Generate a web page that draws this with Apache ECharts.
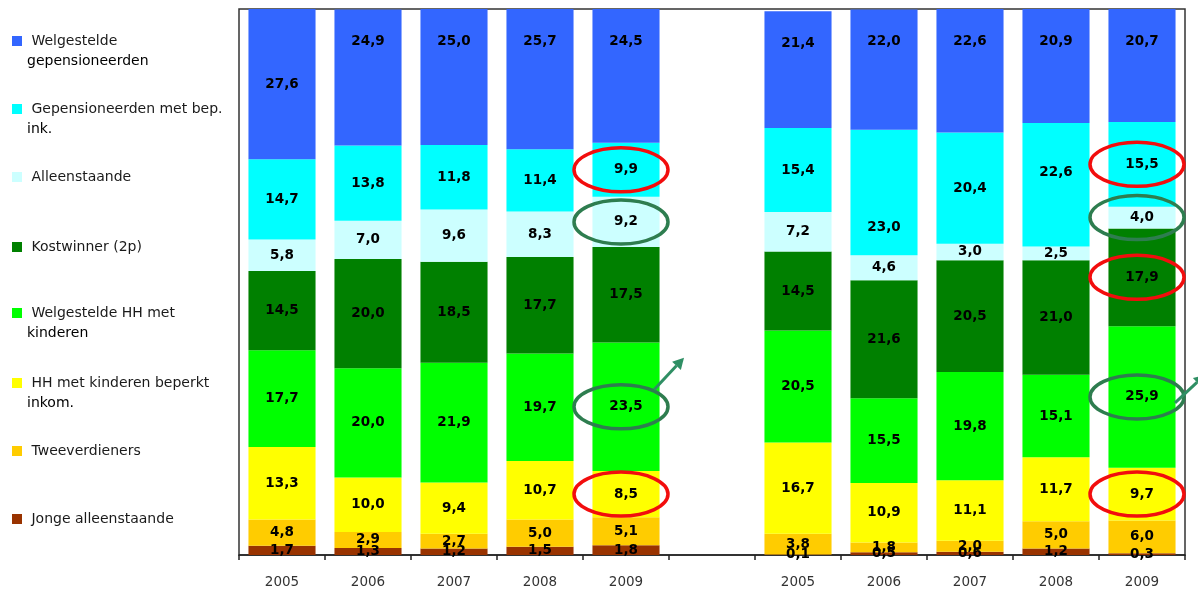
<!DOCTYPE html>
<html>
<head>
<meta charset="utf-8">
<script src="https://cdn.jsdelivr.net/npm/echarts@6/dist/echarts.min.js"></script>
<style>
  html, body { margin: 0; padding: 0; background: #fff; }
  #chart { width: 1198px; height: 595px; }
</style>
</head>
<body>
<div id="chart"></div>
<script>
// Categories: two blocks of years separated by an empty slot
const years = ['2005', '2006', '2007', '2008', '2009', '', '2005', '2006', '2007', '2008', '2009'];

// Shares (%) per household type, listed bottom to top of each stack
const jongeAlleenstaande = [1.7, 1.3, 1.2, 1.5, 1.8, null, 0.1, 0.5, 0.6, 1.2, 0.3];
const tweeverdieners     = [4.8, 2.9, 2.7, 5.0, 5.1, null, 3.8, 1.8, 2.0, 5.0, 6.0];
const hhBeperktInkomen   = [13.3, 10.0, 9.4, 10.7, 8.5, null, 16.7, 10.9, 11.1, 11.7, 9.7];
const welgesteldeHH      = [17.7, 20.0, 21.9, 19.7, 23.5, null, 20.5, 15.5, 19.8, 15.1, 25.9];
const kostwinner         = [14.5, 20.0, 18.5, 17.7, 17.5, null, 14.5, 21.6, 20.5, 21.0, 17.9];
const alleenstaande      = [5.8, 7.0, 9.6, 8.3, 9.2, null, 7.2, 4.6, 3.0, 2.5, 4.0];
const gepensBeperkt      = [14.7, 13.8, 11.8, 11.4, 9.9, null, 15.4, 23.0, 20.4, 22.6, 15.5];
const welgGepens         = [27.6, 24.9, 25.0, 25.7, 24.5, null, 21.4, 22.0, 22.6, 20.9, 20.7];

const FONT = 'DejaVu Sans';

// name, values, colour, legend text lines, legend icon centre (y)
const groups = [
  { name: 'Jonge alleenstaande', values: jongeAlleenstaande, color: '#993300', lines: ['Jonge alleenstaande'], legendY: 519 },
  { name: 'Tweeverdieners', values: tweeverdieners, color: '#FFCC00', lines: ['Tweeverdieners'], legendY: 451 },
  { name: 'HH met kinderen beperkt inkom.', values: hhBeperktInkomen, color: '#FFFF00', lines: ['HH met kinderen beperkt', 'inkom.'], legendY: 383 },
  { name: 'Welgestelde HH met kinderen', values: welgesteldeHH, color: '#00FF00', lines: ['Welgestelde HH met', 'kinderen'], legendY: 313 },
  { name: 'Kostwinner (2p)', values: kostwinner, color: '#008000', lines: ['Kostwinner (2p)'], legendY: 247 },
  { name: 'Alleenstaande', values: alleenstaande, color: '#CCFFFF', lines: ['Alleenstaande'], legendY: 177 },
  { name: 'Gepensioneerden met bep. ink.', values: gepensBeperkt, color: '#00FFFF', lines: ['Gepensioneerden met bep.', 'ink.'], legendY: 109 },
  { name: 'Welgestelde gepensioneerden', values: welgGepens, color: '#3366FF', lines: ['Welgestelde', 'gepensioneerden'], legendY: 41 }
];

// Label placement tweaks (series name -> category index -> label option)
const labelTweaks = {
  'Welgestelde gepensioneerden': { 1: 'top', 2: 'top', 3: 'top', 4: 'top', 6: 'top', 7: 'top', 8: 'top', 9: 'top', 10: 'top' },
  'Gepensioneerden met bep. ink.': { 7: [0, 35], 9: [0, -12] }
};

const fmt = v => v.toFixed(1).replace('.', ',');

const LINE_H = 22;
const LEGEND_LEFT = 12;
const legendText = { fontFamily: FONT, fontSize: 14, color: '#1a1a1a' };

const series = groups.map(g => ({
  name: g.name,
  type: 'bar',
  stack: 'total',
  barWidth: '78%',
  itemStyle: { color: g.color },
  label: {
    show: true,
    position: 'inside',
    color: '#000',
    fontFamily: FONT,
    fontWeight: 'bold',
    fontSize: 13.5,
    formatter: p => fmt(p.value)
  },
  data: g.values.map((v, i) => {
    if (v === null) return null;
    const t = labelTweaks[g.name] && labelTweaks[g.name][i];
    if (t === 'top') return { value: v, label: { position: 'insideTop', distance: 25 } };
    if (Array.isArray(t)) return { value: v, label: { offset: t } };
    return v;
  })
}));

// One legend per item so each entry sits at its own height
const legends = groups.map(g => ({
  data: [g.name],
  orient: 'vertical',
  left: LEGEND_LEFT,
  top: g.legendY - LINE_H / 2,
  padding: 0,
  itemWidth: 10,
  itemHeight: 10,
  icon: 'rect',
  selectedMode: false,
  formatter: () => ' ' + g.lines[0],
  textStyle: Object.assign({ lineHeight: LINE_H }, legendText)
}));

const chart = echarts.init(document.getElementById('chart'));
chart.setOption({
  animation: false,
  backgroundColor: '#fff',
  legend: legends,
  grid: {
    left: 239, right: 13, top: 9, bottom: 40,
    show: true, borderColor: '#333', borderWidth: 1.5
  },
  xAxis: {
    type: 'category',
    data: years,
    axisLine: { lineStyle: { color: '#222', width: 1.5 } },
    axisTick: { show: true, length: 5, lineStyle: { color: '#222', width: 1.5 } },
    axisLabel: { color: '#333', fontFamily: FONT, fontSize: 13.5, margin: 20 }
  },
  yAxis: {
    type: 'value', min: 0, max: 100,
    axisLine: { show: false }, axisTick: { show: false },
    axisLabel: { show: false }, splitLine: { show: false }
  },
  series: series
});

const graphics = [];

// Continuation lines of the two-line legend entries
groups.forEach(g => {
  if (g.lines.length > 1) {
    graphics.push({
      type: 'text',
      left: LEGEND_LEFT + 10 + 5,
      top: g.legendY + LINE_H - 9,
      style: Object.assign({ text: g.lines[1] }, legendText)
    });
  }
});

// Highlight rings around selected segments, anchored to the segment midpoints
const RED = '#F20D0D', GREEN = '#2E7D4F', ARROW = '#2F8F64';
const rings = [
  { cat: 4, name: 'Gepensioneerden met bep. ink.', color: RED },
  { cat: 4, name: 'Alleenstaande', color: GREEN },
  { cat: 4, name: 'Welgestelde HH met kinderen', color: GREEN, arrow: [[33, -17], [63, -49]] },
  { cat: 4, name: 'HH met kinderen beperkt inkom.', color: RED },
  { cat: 10, name: 'Gepensioneerden met bep. ink.', color: RED },
  { cat: 10, name: 'Alleenstaande', color: GREEN },
  { cat: 10, name: 'Kostwinner (2p)', color: RED },
  { cat: 10, name: 'Welgestelde HH met kinderen', color: GREEN, arrow: [[38, 6], [68, -22]] },
  { cat: 10, name: 'HH met kinderen beperkt inkom.', color: RED }
];

function segmentMid(cat, name) {
  let base = 0;
  for (const g of groups) {
    const v = g.values[cat] || 0;
    if (g.name === name) return base + v / 2;
    base += v;
  }
  return base;
}

rings.forEach(r => {
  const [px, py] = chart.convertToPixel({ xAxisIndex: 0, yAxisIndex: 0 }, [r.cat, segmentMid(r.cat, r.name)]);
  const cx = px - 5, cy = py;
  graphics.push({
    type: 'ellipse',
    shape: { cx: cx, cy: cy, rx: 47, ry: 22 },
    style: { fill: 'none', stroke: r.color, lineWidth: 3.5 },
    z: 100
  });
  if (r.arrow) {
    const [s, e] = r.arrow;
    const x1 = cx + s[0], y1 = cy + s[1], x2 = cx + e[0], y2 = cy + e[1];
    const ang = Math.atan2(y2 - y1, x2 - x1);
    const hl = 11, hw = 6;
    const bx = x2 - hl * Math.cos(ang), by = y2 - hl * Math.sin(ang);
    graphics.push({
      type: 'line',
      shape: { x1: x1, y1: y1, x2: bx, y2: by },
      style: { stroke: ARROW, lineWidth: 3 },
      z: 100
    });
    graphics.push({
      type: 'polygon',
      shape: { points: [
        [x2, y2],
        [bx + hw * Math.sin(ang), by - hw * Math.cos(ang)],
        [bx - hw * Math.sin(ang), by + hw * Math.cos(ang)]
      ] },
      style: { fill: ARROW },
      z: 100
    });
  }
});
chart.setOption({ graphic: graphics });
</script>
</body>
</html>
